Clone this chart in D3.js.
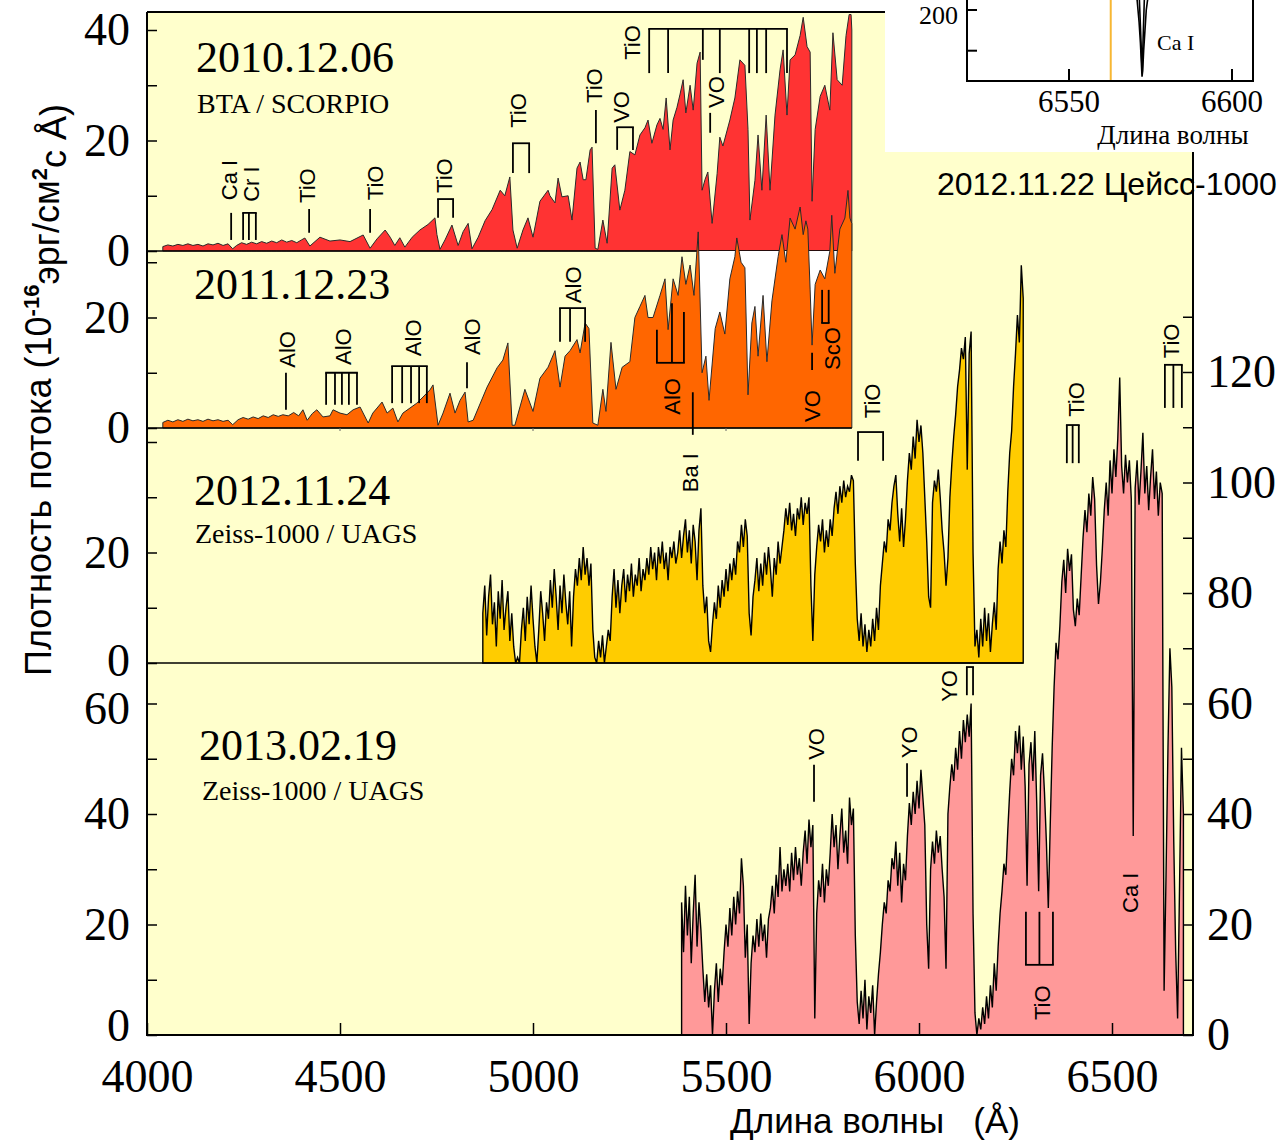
<!DOCTYPE html>
<html lang="ru">
<head>
<meta charset="utf-8">
<title>Спектры 2010–2013</title>
<script src="https://cdn.jsdelivr.net/npm/d3@7/dist/d3.min.js"></script>
<style>
  html, body { margin: 0; padding: 0; background: #fff; }
  svg { display: block; }
</style>
</head>
<body>
<svg id="chart" width="1281" height="1143"></svg>
<script>
// ---------------- data ----------------
// 2010.12.06, BTA / SCORPIO: [wavelength Å, flux]
const spec20101206 = [[4041,0.8],[4054,1.1],[4067,0.9],[4080,1.2],[4093,1.0],[4106,1.3],[4119,1.0],[4132,1.2],[4145,0.9],[4158,1.3],[4171,1.1],[4184,1.4],[4197,1.0],[4210,1.3],[4222,0.4],[4232,1.0],[4245,1.5],[4258,1.2],[4271,1.6],[4284,1.3],[4297,1.7],[4310,1.4],[4323,1.8],[4336,1.5],[4349,2.0],[4362,1.6],[4375,1.9],[4388,1.5],[4400,2.0],[4409,2.35],[4422,0.9],[4448,2.5],[4474,1.8],[4500,2.0],[4526,1.7],[4560,2.9],[4578,0.5],[4596,2.2],[4617,3.8],[4630,2.5],[4642,1.0],[4655,2.4],[4668,0.7],[4687,2.5],[4707,3.8],[4728,4.8],[4746,6.0],[4751,3.0],[4759,0.3],[4772,2.0],[4790,4.7],[4806,1.0],[4819,3.5],[4832,5.0],[4842,0.4],[4858,2.5],[4876,5.5],[4894,7.5],[4915,11],[4927,10],[4940,13.4],[4948,3.8],[4959,0.5],[4974,3.8],[4987,6],[5000,2.5],[5018,9],[5039,11],[5044,10],[5057,8.7],[5065,13.2],[5075,9.8],[5091,10],[5101,5.6],[5114,15],[5122,16.1],[5130,12.9],[5137,12.9],[5148,18.3],[5153,18.8],[5161,0.5],[5168,0.3],[5181,5.6],[5192,1.4],[5205,15],[5212,15.6],[5225,7.4],[5238,11],[5251,18],[5264,17.4],[5277,21],[5290,22.3],[5298,23.7],[5308,19.5],[5321,22.8],[5329,24],[5337,22],[5345,27.7],[5355,18.3],[5363,23.7],[5373,26],[5381,28.4],[5389,31],[5396,25],[5407,30],[5415,25.5],[5425,34],[5433,36],[5438,11],[5446,13],[5453,14.3],[5464,5.0],[5477,14],[5484,20.6],[5492,19],[5510,23.7],[5523,27.7],[5536,34.6],[5549,33.6],[5557,22],[5562,5.6],[5575,12.8],[5583,21],[5593,11],[5604,24.6],[5614,11],[5627,24.6],[5640,32.8],[5648,36.4],[5658,24.6],[5666,34.6],[5679,35.5],[5692,39],[5700,42.3],[5710,37],[5718,36],[5723,9],[5731,22],[5744,28],[5756,30],[5769,25.5],[5777,39.5],[5788,31],[5801,30],[5811,39],[5819,42.8],[5824,42.8],[5826,40]];

// 2011.12.23: [wavelength Å, flux]
const spec20111223 = [[4041,1.0],[4054,1.4],[4067,1.1],[4080,1.5],[4093,1.2],[4106,1.6],[4119,1.3],[4132,1.5],[4145,1.2],[4158,1.6],[4171,1.3],[4184,1.5],[4197,1.2],[4210,1.4],[4222,0.6],[4236,1.5],[4249,1.9],[4262,1.6],[4275,2.0],[4288,1.7],[4301,2.2],[4314,1.9],[4327,2.4],[4340,2.1],[4352,2.4],[4366,2.2],[4380,2.8],[4393,2.2],[4404,3.3],[4415,1.4],[4428,2.6],[4440,3.3],[4456,2.0],[4474,2.2],[4482,3.3],[4500,2.7],[4518,2.4],[4534,3.3],[4552,3.8],[4573,0.9],[4585,2.7],[4609,4.7],[4622,2.7],[4637,3.6],[4650,1.1],[4663,2.7],[4681,3.6],[4699,4.5],[4715,5.6],[4733,6.9],[4741,7.8],[4754,0.5],[4767,2.7],[4785,6.3],[4798,2.7],[4811,5.0],[4824,6.5],[4832,1.1],[4845,1.4],[4881,7.4],[4907,10.9],[4922,12.3],[4935,15.4],[4946,0.5],[4953,0.5],[4979,7],[5000,3],[5018,9],[5039,11],[5057,14],[5070,7.4],[5083,13],[5096,14],[5114,16],[5122,13.6],[5135,19],[5145,18],[5155,0.9],[5168,0.5],[5181,7],[5189,3],[5202,15.5],[5215,7],[5231,11],[5251,12],[5264,20],[5277,22],[5290,24],[5298,20],[5311,20],[5329,24],[5342,27],[5350,17.8],[5363,27],[5376,24],[5386,31],[5396,26],[5407,29.5],[5417,24],[5428,35.5],[5438,10],[5448,13],[5456,5],[5472,18],[5484,21],[5497,17],[5510,27],[5523,31],[5528,34.4],[5539,30],[5549,29],[5557,6],[5567,19],[5575,22],[5583,13],[5596,24],[5606,12],[5619,23],[5635,31],[5645,35],[5655,30],[5666,38],[5679,36],[5692,40],[5700,35],[5707,37.5],[5712,36],[5718,25],[5723,15],[5731,26],[5744,28.6],[5756,27],[5769,32],[5774,38.5],[5782,28],[5795,36],[5808,38],[5816,43],[5821,38],[5826,37]];

// 2012.11.24, Zeiss-1000 / UAGS: evenly sampled from start, step in Å
const start20121124 = 4870, step20121124 = 5;
const flux20121124 = [
  9,14,5,12,16,7,11,3,13,8,15,6,10,13,4,9,
  3,0,1,0,6,10,
  4,12,7,14,8,3,0,6,13,9,4,11,
  8,15,10,17,12,6,14,9,16,11,7,13,3,
  12,17,14,19,15,21,16,19,14,18,
  6,1,0,4,1,5,0,3,6,4,
  12,17,10,15,9,14,17,11,16,13,18,12,16,14,19,13,17,15,19,
  16,21,17,20,15,21,18,22,17,20,15,21,19,22,18,
  20,24,19,23,26,20,24,18,25,22,15,24,28,
  14,9,12,4,2,7,
  11,8,14,10,15,12,17,13,18,15,19,16,
  22,20,25,21,26,23,
  9,5,12,
  15,19,13,18,14,20,16,21,17,12,19,16,22,18,21,
  24,28,25,29,24,27,23,28,26,30,25,29,27,30,
  14,4,16,
  21,25,22,26,20,24,21,26,23,
  28,31,27,32,29,33,30,32,31,34,33,
  18,8,4,9,3,7,2,6,3,8,4,10,6,
  14,18,22,20,26,24,29,32,34,
  27,22,28,21,26,
  33,38,35,41,37,44,40,43,38,
  30,22,12,10,
  29,33,31,35,30,
  24,20,14,19,
  30,36,41,45,50,53,57,55,59,35,56,60,
  20,3,6,1,8,3,10,4,9,2,7,11,6,
  17,22,18,24,21,
  31,38,42,50,
  56,63,58,72,66
];

// 2013.02.19, Zeiss-1000 / UAGS: evenly sampled from start, step in Å
const start20130219 = 5385, step20130219 = 5;
const flux20130219 = [
  24,15,27,18,25,13,22,29,16,24,19,
  12,6,11,5,9,0,8,13,6,12,9,
  15,20,16,23,18,25,20,26,22,
  32,27,
  14,20,2,13,
  18,15,21,16,22,17,20,14,21,
  23,27,22,29,25,34,26,30,27,
  31,26,33,28,34,29,32,27,
  33,37,31,39,34,38,
  3,
  22,28,25,31,24,30,27,
  33,40,34,38,30,36,41,33,37,31,43,38,41,
  18,6,2,8,3,10,1,7,4,9,0,6,11,
  15,20,24,22,28,26,32,
  30,35,27,33,24,31,28,
  36,42,38,44,40,46,41,48,43,38,
  20,12,
  30,35,31,37,33,36,30,25,12,
  40,45,49,46,52,48,55,50,57,53,58,54,60,
  22,4,0,3,1,5,2,7,3,9,5,13,8,16,
  22,26,31,29,37,44,50,47,55,
  51,56,48,54,45,27,49,53,46,55,42,26,47,51,44,35,23,
  38,52,63,71,68,74,
  82,86,80,88,84,87,
  77,74,79,76,83,
  90,95,91,98,94,101,97,
  85,78,82,88,
  95,100,94,104,98,106,101,108,119,
  103,98,105,100,104,97,
  36,
  99,104,96,102,109,98,103,95,101,106,97,102,94,100,98,
  8,29,52,70,63,35,15,3,27,52,40
];

// Ca I 6573 Å profile, 2012.11.22 Zeiss-1000 (inset)
const insetProfileA = [[6568.5,260],[6570.9,212],[6571.5,185],[6571.9,160],[6572.2,135],[6572.4,118],[6572.6,125],[6572.9,150],[6573.3,175],[6573.7,200],[6574.1,212],[6576,260]];
const insetProfileB = [[6570.5,260],[6571.6,212],[6572.1,160],[6572.45,122],[6572.7,160],[6573.1,212],[6573.8,260]];
const insetHalpha = 6562.8;

// axis ticks
const waveTicks = [4000, 4500, 5000, 5500, 6000, 6500];
const scorpioTicks = [4500, 5000, 5500];
const ticks2010 = [0, 10, 20, 30, 40], labels2010 = [0, 20, 40];
const ticks2011 = [0, 10, 20, 30], labels2011 = [0, 20];
const ticks2012 = [0, 10, 20, 30, 40], labels2012 = [0, 20];
const ticks2013 = [0, 10, 20, 30, 40, 50, 60], labels2013 = [0, 20, 40, 60];
const rightTicks = [0, 10, 20, 30, 40, 50, 60, 70, 80, 90, 100, 110, 120, 130];
const rightLabels = [0, 20, 40, 60, 80, 100, 120];
const insetWaveTicks = [6550, 6600];
const insetFluxTicks = [150, 200], insetFluxLabels = [200];

// captions
const titles2010 = ["2010.12.06", "BTA / SCORPIO"];
const titles2011 = ["2011.12.23"];
const titles2012 = ["2012.11.24", "Zeiss-1000 / UAGS"];
const titles2013 = ["2013.02.19", "Zeiss-1000 / UAGS"];
const insetCaption = "2012.11.22 Цейсс-1000";

// line identifications: marker wavelengths, flux span of each marker line,
// label wavelength and the flux where the label starts
const marks2010 = [
  {text: "Ca I", waves: [4218], lo: 2.0, hi: 6.9, tw: 4213, tf: 9.2},
  {text: "Cr I", waves: [4249, 4264, 4282], lo: 2.0, hi: 6.9, tw: 4270, tf: 8.9},
  {text: "TiO", waves: [4420], lo: 3.3, hi: 7.6, tw: 4414, tf: 8.7},
  {text: "TiO", waves: [4578], lo: 3.3, hi: 7.6, tw: 4591, tf: 9.2},
  {text: "TiO", waves: [4754, 4793], lo: 6.0, hi: 9.4, tw: 4769, tf: 10.5},
  {text: "TiO", waves: [4948, 4990], lo: 14.1, hi: 19.5, tw: 4961, tf: 22.3},
  {text: "TiO", waves: [5163], lo: 19.5, hi: 25.5, tw: 5158, tf: 26.8},
  {text: "VO", waves: [5218, 5259], lo: 18.3, hi: 22.4, tw: 5228, tf: 23.2},
  {text: "TiO", waves: [5301, 5350, 5440, 5484, 5560, 5580, 5604, 5658], lo: [32.2, 32.2, 34.6, 32.2, 32.2, 32.2, 32.2, 32.2], hi: 40.2, tw: 5256, tf: 34.6},
  {text: "VO", waves: [5459], lo: 21.4, hi: 25.0, tw: 5474, tf: 25.9}
];
const marks2011 = [
  {text: "AlO", waves: [4360], lo: 3.3, hi: 10.0, tw: 4363, tf: 10.9},
  {text: "AlO", waves: [4464, 4487, 4505, 4523, 4544], lo: 4.2, hi: 10.0, tw: 4508, tf: 11.4},
  {text: "AlO", waves: [4635, 4661, 4684, 4705, 4725], lo: 4.5, hi: 11.2, tw: 4689, tf: 13.0},
  {text: "AlO", waves: [4829], lo: 7.2, hi: 11.9, tw: 4842, tf: 13.2},
  {text: "AlO", waves: [5070, 5096, 5135], lo: 15.6, hi: 21.7, tw: 5104, tf: 22.6},
  {text: "AlO", waves: [5321, 5360, 5391], lo: 11.8, hi: [17.8, 22.6, 21.0], bar: "lo", tw: 5360, tf: 2.4},
  {text: "VO", waves: [5723], lo: 10.5, hi: 13.6, tw: 5723, tf: 1.1},
  {text: "ScO", waves: [5749, 5766], lo: 19.0, hi: 25.0, bar: "lo", tw: 5775, tf: 10.5}
];
const marks2012 = [
  {text: "Ba I", waves: [5414], lo: 41.3, hi: 49.0, tw: 5407, tf: 30.9},
  {text: "TiO", waves: [5842, 5907], lo: 36.6, hi: 41.8, tw: 5878, tf: 44.3}
];
const marks2013 = [
  {text: "VO", waves: [5728], lo: 42.2, hi: 48.9, tw: 5733, tf: 49.8},
  {text: "YO", waves: [5969], lo: 43.1, hi: 49.2, tw: 5974, tf: 50.1},
  {text: "YO", waves: [6124, 6140], lo: 61.5, hi: 66.6, tw: 6078, tf: 60.3},
  {text: "TiO", waves: [6383, 6398, 6414], lo: 103.5, hi: 110.4, tw: 6407, tf: 111.9},
  {text: "TiO", waves: [6637, 6659, 6681], lo: 113.5, hi: 121.3, tw: 6653, tf: 122.5},
  {text: "TiO", waves: [6277, 6312, 6347], lo: 12.7, hi: 22.3, bar: "lo", tw: 6319, tf: 2.7},
  {text: "Ca I", waves: [], lo: 0, hi: 0, tw: 6547, tf: 22.1}
];

// ---------------- layout ----------------
const svg = d3.select("#chart");
const plot = {left: 147, right: 1193, top: 12, bottom: 1035};
const x = d3.scaleLinear().domain([4000, 6500]).range([147, 1112]);
const PX = 5.525; // pixels per flux unit, shared by all four spectra
const panelY = base => d3.scaleLinear().domain([0, 1]).range([base, base - PX]);
const y2010 = panelY(251), y2011 = panelY(428), y2012 = panelY(663), y2013 = panelY(1035);

const SERIF = '"Liberation Serif", "Times New Roman", serif';
const SANS = '"Liberation Sans", Arial, sans-serif';

svg.append("rect").attr("x", plot.left).attr("y", plot.top)
  .attr("width", plot.right - plot.left).attr("height", plot.bottom - plot.top)
  .attr("fill", "#FFFFCC");

const sampled = (start, step, flux) => flux.map((f, i) => [start + i * step, f]);
const spec20121124 = sampled(start20121124, step20121124, flux20121124);
const spec20130219 = sampled(start20130219, step20130219, flux20130219);

function drawSpectrum(data, y, fill, stroke, width) {
  const area = d3.area().x(d => x(d[0])).y0(y(0)).y1(d => y(d[1]));
  svg.append("path").datum(data).attr("d", area)
    .attr("fill", fill).attr("stroke", stroke).attr("stroke-width", width)
    .attr("stroke-linejoin", "miter");
}
function baseline(y, w1) {
  svg.append("line").attr("x1", plot.left).attr("x2", x(w1))
    .attr("y1", y(0)).attr("y2", y(0)).attr("stroke", "#000").attr("stroke-width", 1.5);
}

// 2010 spectrum
drawSpectrum(spec20101206, y2010, "#FF3333", "#2a2a2a", 1);
baseline(y2010, spec20101206[spec20101206.length - 1][0]);
// white backing of the 2011 frame at its red end
svg.append("rect").attr("x", x(5428)).attr("y", y2010(0))
  .attr("width", x(5826) - x(5428)).attr("height", y2011(0) - y2010(0)).attr("fill", "#fff");
// 2011 spectrum
drawSpectrum(spec20111223, y2011, "#FF6600", "#2a2a2a", 1);
baseline(y2011, spec20111223[spec20111223.length - 1][0]);
svg.append("g").selectAll("line").data(scorpioTicks).join("line")
  .attr("x1", d => x(d)).attr("x2", d => x(d)).attr("y1", y2011(0)).attr("y2", y2011(0) + 3)
  .attr("stroke", "#666").attr("stroke-width", 1);
// 2012 spectrum
drawSpectrum(spec20121124, y2012, "#FFCC00", "#000", 1.4);
baseline(y2012, spec20121124[spec20121124.length - 1][0]);
// 2013 spectrum
drawSpectrum(spec20130219, y2013, "#FF9999", "#000", 1.4);

// ---------------- captions ----------------
function caption(lines, x0, ys, sizes) {
  lines.forEach((t, i) => svg.append("text").attr("x", x0[i]).attr("y", ys[i])
    .attr("font-family", SERIF).attr("font-size", sizes[i]).attr("fill", "#000").text(t));
}
caption(titles2010, [196, 197], [72, 113], [44, 28]);
caption(titles2011, [194], [299], [44]);
caption(titles2012, [194, 195], [505, 543], [44, 28]);
caption(titles2013, [199, 202], [760, 800], [44, 28]);

// ---------------- line identifications ----------------
function drawMarks(marks, y) {
  const g = svg.append("g").attr("stroke", "#000").attr("stroke-width", 1.8).attr("fill", "none");
  marks.forEach(m => {
    const lo = Array.isArray(m.lo) ? m.lo : m.waves.map(() => m.lo);
    const hi = Array.isArray(m.hi) ? m.hi : m.waves.map(() => m.hi);
    m.waves.forEach((w, i) => g.append("line")
      .attr("x1", x(w)).attr("x2", x(w)).attr("y1", y(hi[i])).attr("y2", y(lo[i])));
    if (m.waves.length > 1) {
      const at = m.bar === "lo" ? Math.min(...lo) : Math.max(...hi);
      g.append("line").attr("x1", x(m.waves[0]) - 0.9).attr("x2", x(m.waves[m.waves.length - 1]) + 0.9)
        .attr("y1", y(at)).attr("y2", y(at));
    }
    svg.append("text")
      .attr("transform", `translate(${x(m.tw)},${y(m.tf)}) rotate(-90)`)
      .attr("dy", "0.36em").attr("font-family", SANS).attr("font-size", 22).attr("fill", "#000")
      .text(m.text);
  });
}
drawMarks(marks2010, y2010);
drawMarks(marks2011, y2011);
drawMarks(marks2012, y2012);
drawMarks(marks2013, y2013);

// ---------------- axes ----------------
function styleAxis(g, size, nudge = {}) {
  g.select(".domain").remove();
  g.selectAll(".tick line").attr("stroke", "#000").attr("stroke-width", 1.5);
  g.selectAll(".tick text").attr("font-family", SERIF).attr("font-size", size).attr("fill", "#000")
    .attr("transform", d => nudge[d] ? `translate(0,${nudge[d]})` : null);
}
function leftAxis(y, ticks, labels, nudge) {
  const ax = d3.axisLeft(y).tickValues(ticks).tickSize(-10).tickPadding(17)
    .tickFormat(d => labels.includes(d) ? d : "");
  const g = svg.append("g").attr("transform", `translate(${plot.left},0)`).call(ax);
  styleAxis(g, 46, nudge);
}
leftAxis(y2010, ticks2010, labels2010);
leftAxis(y2011, ticks2011, labels2011);
leftAxis(y2012, ticks2012, labels2012, {0: -2});
leftAxis(y2013, ticks2013, labels2013, {0: -9, 60: 5});

const gx = svg.append("g").attr("transform", `translate(0,${plot.bottom})`)
  .call(d3.axisBottom(x).tickValues(waveTicks).tickSize(-12).tickPadding(24).tickFormat(d3.format("d")));
styleAxis(gx, 46);

const gr = svg.append("g").attr("transform", `translate(${plot.right},0)`)
  .call(d3.axisRight(y2013).tickValues(rightTicks).tickSize(-10).tickPadding(14)
    .tickFormat(d => rightLabels.includes(d) ? d : ""));
styleAxis(gr, 46);

// frame
svg.append("path")
  .attr("d", `M${plot.left},${plot.top}H885M${plot.left},${plot.top}V${plot.bottom}H${plot.right}V152`)
  .attr("fill", "none").attr("stroke", "#000").attr("stroke-width", 2);

// axis titles
const yTitle = svg.append("text")
  .attr("transform", "translate(51,390) rotate(-90)")
  .attr("text-anchor", "middle").attr("font-family", SANS).attr("font-size", 36).attr("fill", "#000");
yTitle.append("tspan").text("Плотность потока (10");
yTitle.append("tspan").attr("dy", "-0.55em").attr("font-size", 22).attr("font-weight", "bold").text("-16");
yTitle.append("tspan").attr("dy", "0.55em").text("эрг/см");
yTitle.append("tspan").attr("dy", "-0.55em").attr("font-size", 22).attr("font-weight", "bold").text("2");
yTitle.append("tspan").attr("dy", "0.55em").text("с Å)");

svg.append("text").attr("x", 875).attr("y", 1133).attr("text-anchor", "middle")
  .attr("font-family", SANS).attr("font-size", 35).attr("fill", "#000")
  .text("Длина волны\u00A0\u00A0\u00A0(Å)");

// ---------------- inset: Ca I 6573 Å ----------------
svg.append("rect").attr("x", 885).attr("y", 0).attr("width", 1281 - 885).attr("height", 152).attr("fill", "#fff");
const ix = d3.scaleLinear().domain([6550, 6600]).range([1069, 1232]);
const iy = d3.scaleLinear().domain([150, 200]).range([50.7, 10]);
const inset = {left: 967, right: 1253, top: -4, bottom: 81};
svg.append("clipPath").attr("id", "insetClip").append("rect")
  .attr("x", inset.left).attr("y", 0).attr("width", inset.right - inset.left).attr("height", inset.bottom);
const ig = svg.append("g").attr("clip-path", "url(#insetClip)");
ig.append("line").attr("x1", ix(insetHalpha)).attr("x2", ix(insetHalpha))
  .attr("y1", 0).attr("y2", inset.bottom).attr("stroke", "#F7B733").attr("stroke-width", 2);
const iline = d3.line().x(d => ix(d[0])).y(d => iy(d[1]));
[insetProfileA, insetProfileB].forEach(p => ig.append("path").datum(p).attr("d", iline)
  .attr("fill", "none").attr("stroke", "#000").attr("stroke-width", 1.6));
svg.append("path")
  .attr("d", `M${inset.left},${inset.top}V${inset.bottom}H${inset.right}V${inset.top}`)
  .attr("fill", "none").attr("stroke", "#000").attr("stroke-width", 2);
svg.append("g").selectAll("line").data(insetWaveTicks).join("line")
  .attr("x1", d => ix(d)).attr("x2", d => ix(d)).attr("y1", inset.bottom).attr("y2", inset.bottom - 12)
  .attr("stroke", "#000").attr("stroke-width", 2);
svg.append("g").selectAll("text").data(insetWaveTicks).join("text")
  .attr("x", d => ix(d)).attr("y", 112).attr("text-anchor", "middle")
  .attr("font-family", SERIF).attr("font-size", 31).attr("fill", "#000").text(d => d);
svg.append("g").selectAll("line").data(insetFluxTicks).join("line")
  .attr("x1", inset.left).attr("x2", inset.left + 10).attr("y1", d => iy(d)).attr("y2", d => iy(d))
  .attr("stroke", "#000").attr("stroke-width", 2);
svg.append("g").selectAll("text").data(insetFluxLabels).join("text")
  .attr("x", 958).attr("y", d => iy(d) + 14).attr("text-anchor", "end")
  .attr("font-family", SERIF).attr("font-size", 26).attr("fill", "#000").text(d => d);
svg.append("text").attr("x", 1157).attr("y", 50).attr("font-family", SERIF).attr("font-size", 22)
  .attr("fill", "#000").text("Ca I");
svg.append("text").attr("x", 1173).attr("y", 144).attr("text-anchor", "middle")
  .attr("font-family", SERIF).attr("font-size", 27).attr("fill", "#000").text("Длина волны");
svg.append("text").attr("x", 937).attr("y", 195).attr("font-family", SANS).attr("font-size", 32)
  .attr("fill", "#000").text(insetCaption);
// the plot's right border runs through the caption
svg.append("line").attr("x1", plot.right).attr("x2", plot.right).attr("y1", 152).attr("y2", 200)
  .attr("stroke", "#000").attr("stroke-width", 2);
</script>
</body>
</html>
